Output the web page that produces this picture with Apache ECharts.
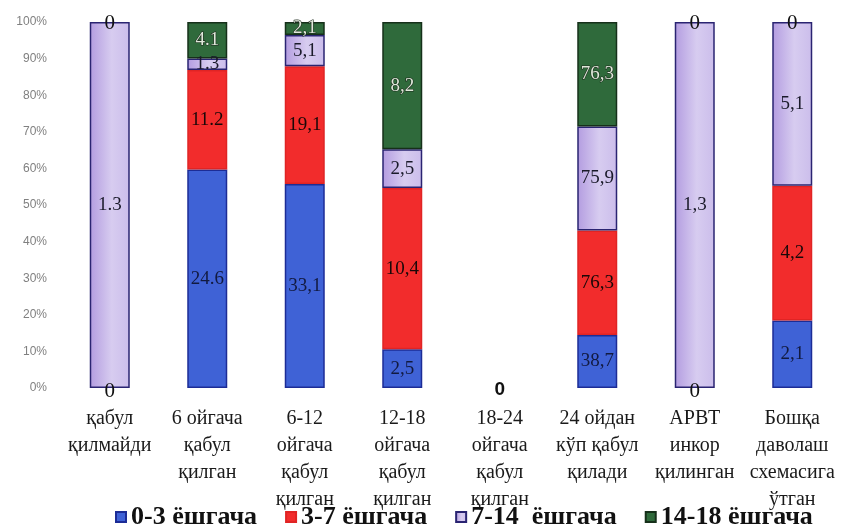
<!DOCTYPE html>
<html>
<head>
<meta charset="utf-8">
<script src="https://cdn.jsdelivr.net/npm/echarts@6/dist/echarts.min.js"></script>
<style>
  html, body { margin: 0; padding: 0; background: #ffffff; }
  #chart { width: 845px; height: 528px; }
</style>
</head>
<body>
<div id="chart"></div>
<script>
// Treatment-start groups (x axis)
const categories = [
  'қабул\nқилмайди',
  '6 ойгача\nқабул\nқилган',
  '6-12\nойгача\nқабул\nқилган',
  '12-18\nойгача\nқабул\nқилган',
  '18-24\nойгача\nқабул\nқилган',
  '24 ойдан\nкўп қабул\nқилади',
  'АРВТ\nинкор\nқилинган',
  'Бошқа\nдаволаш\nсхемасига\nўтган'
];

// Values per age group
const age0to3   = [0, 24.6, 33.1, 2.5, 0, 38.7, 0, 2.1];
const age3to7   = [0, 11.2, 19.1, 10.4, 0, 76.3, 0, 4.2];
const age7to14  = [1.3, 1.3, 5.1, 2.5, 0, 75.9, 1.3, 5.1];
const age14to18 = [0, 4.1, 2.1, 8.2, 0, 76.3, 0, 0];

// Decimal separator printed in each column's labels
const decimalMarks = ['.', '.', ',', ',', ',', ',', ',', ','];

const seriesNames = ['0-3 ёшгача', '3-7 ёшгача', '7-14  ёшгача', '14-18 ёшгача'];

// Y axis ticks (percent)
const yMin = 0, yMax = 100, yStep = 10;

const groups = [age0to3, age3to7, age7to14, age14to18];
const totals = categories.map((_, j) => groups.reduce((s, g) => s + g[j], 0));

const lavender = new echarts.graphic.LinearGradient(0, 0, 1, 0, [
  { offset: 0, color: '#b39ce0' },
  { offset: 0.55, color: '#d7ccf0' },
  { offset: 1, color: '#cbbdeb' }
]);

const styles = [
  { color: '#3f62d6', border: '#1c2c96', text: '#121a40' },
  { color: '#f22c2c', border: '#e02424', text: '#1a0808' },
  { color: lavender,  border: '#2a2472', text: '#1a1a2a' },
  { color: '#2f6a3b', border: '#16301a', text: '#dfe9da' }
];

function fmt(v, j) {
  if (v === 0) return '0';
  return String(v).replace('.', decimalMarks[j]);
}

const series = groups.map((vals, i) => ({
  name: seriesNames[i],
  type: 'bar',
  stack: 'total',
  barWidth: 40,
  itemStyle: { color: styles[i].color, borderColor: styles[i].border, borderWidth: 1.5 },
  label: {
    show: true,
    position: 'inside',
    fontFamily: 'Liberation Serif',
    fontSize: 19,
    color: styles[i].text,
    textBorderColor: i === 3 ? '#1d2a1d' : 'transparent',
    textBorderWidth: i === 3 ? 1.2 : 0,
    formatter: p => fmt(p.data.raw, p.dataIndex)
  },
  data: vals.map((v, j) => {
    const pct = totals[j] > 0 ? v / totals[j] * 100 : 0;
    const item = { value: pct, raw: v };
    if (v === 0) {
      item.itemStyle = { borderWidth: 0 };
      const allZero = totals[j] === 0;
      const showZero = (i === 0) || (i === groups.length - 1 && !allZero);
      if (!showZero) {
        item.label = { show: false };
      } else if (allZero) {
        item.label = {
          show: true, color: '#111', fontFamily: 'Liberation Sans',
          fontWeight: 'bold', fontSize: 19, offset: [0, 2],
          textBorderWidth: 0
        };
      } else {
        item.label = {
          show: true, color: '#111', fontSize: 21,
          textBorderWidth: 0, offset: [0, i === 0 ? 3 : 1]
        };
      }
    }
    return item;
  })
}));

const chart = echarts.init(document.getElementById('chart'));
chart.setOption({
  animation: false,
  backgroundColor: '#ffffff',
  grid: { left: 61, right: 4, top: 22, bottom: 140, containLabel: false },
  legend: {
    data: seriesNames,
    left: 115,
    top: 504,
    padding: 0,
    itemWidth: 10,
    itemHeight: 10,
    itemGap: 28,
    icon: 'rect',
    textStyle: { fontFamily: 'Liberation Serif', fontWeight: 'bold', fontSize: 26, color: '#111' }
  },
  xAxis: {
    type: 'category',
    data: categories,
    axisLine: { show: false },
    axisTick: { show: false },
    axisLabel: {
      interval: 0,
      margin: 17,
      fontFamily: 'Liberation Serif',
      fontSize: 20,
      lineHeight: 27,
      color: '#1a1a1a'
    }
  },
  yAxis: {
    type: 'value',
    min: yMin,
    max: yMax,
    interval: yStep,
    axisLine: { show: false },
    axisTick: { show: false },
    splitLine: { show: false },
    axisLabel: {
      formatter: '{value}%',
      margin: 14,
      fontFamily: 'Liberation Sans',
      fontSize: 12,
      color: '#808080'
    }
  },
  series: series
});
</script>
</body>
</html>
